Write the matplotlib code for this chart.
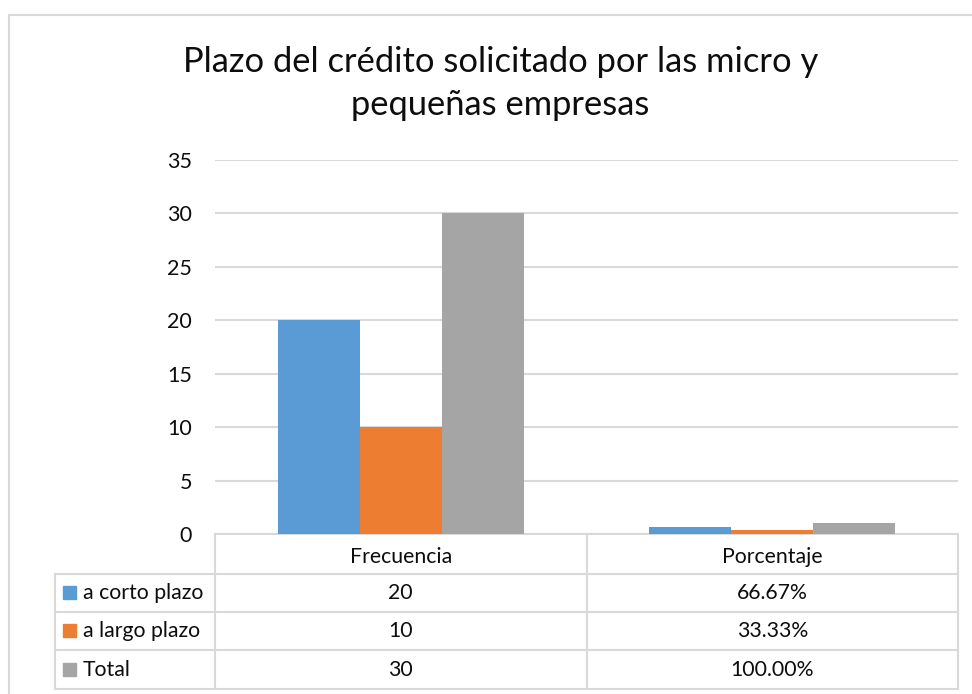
import matplotlib
matplotlib.use("Agg")
import matplotlib.pyplot as plt
import numpy as np

# data
categories = ["Frecuencia", "Porcentaje"]
series_names = ["a corto plazo", "a largo plazo", "Total"]
frecuencia = [20, 10, 30]
porcentaje = [0.6667, 0.3333, 1.0]
colors = ["#5B9BD5", "#ED7D31", "#A5A5A5"]
yticks = [0, 5, 10, 15, 20, 25, 30, 35]

plt.rcParams['font.family'] = ['Lato', 'DejaVu Sans']
txt_c = '#0d0d0d'

W, H = 972, 694
fig = plt.figure(figsize=(W / 100, H / 100), dpi=100)

# overlay in pixel coords for border, title and data table
ov = fig.add_axes([0, 0, 1, 1])
ov.set_xlim(0, W)
ov.set_ylim(H, 0)
ov.axis('off')
ov.set_zorder(0)

grid_c = "#D9D9D9"
ov.plot([9, W], [15, 15], color=grid_c, lw=1.5)
ov.plot([9, 9], [15, H], color=grid_c, lw=1.5)

ov.text(501, 62, "Plazo del crédito solicitado por las micro y", ha='center', va='center',
        fontsize=24.8, color=txt_c)
ov.text(500, 105, "pequeñas empresas", ha='center', va='center',
        fontsize=24.8, color=txt_c)

# plot area
x0, x1 = 215, 958
ytop, ybase = 160, 534
ax = fig.add_axes([x0 / W, (H - ybase) / H, (x1 - x0) / W, (ybase - ytop) / H])
ax.set_zorder(1)
ax.patch.set_alpha(0)

x = np.arange(len(categories))
bw = 0.2207
values = np.array([frecuencia, porcentaje]).T
for i, name in enumerate(series_names):
    ax.bar(x + (i - 1) * bw, values[i], width=bw, color=colors[i], zorder=2)

ax.set_xlim(-0.5, len(categories) - 0.5)
ax.set_ylim(0, 35)
ax.set_yticks(yticks)
ax.set_yticklabels([str(t) for t in yticks], fontsize=15.5, color=txt_c)
ax.tick_params(axis='y', length=0, pad=16.5)
ax.set_xticks([])
ax.yaxis.grid(True, color=grid_c, lw=1.5, zorder=0)
ax.set_axisbelow(True)
for s in ax.spines.values():
    s.set_visible(False)

# data table
cat_w = (x1 - x0) / len(categories)
col_edges = [x0 + k * cat_w for k in range(len(categories) + 1)]
rows = [ybase, 574, 612, 650, 689]
leg_left = 55
lw = 1.5
ov.plot([x0, x1], [rows[0], rows[0]], color=grid_c, lw=lw)
for r in rows[1:]:
    ov.plot([leg_left, x1], [r, r], color=grid_c, lw=lw)
ov.plot([leg_left, leg_left], [rows[1], rows[-1]], color=grid_c, lw=lw)
for c in col_edges:
    ov.plot([c, c], [rows[0], rows[-1]], color=grid_c, lw=lw)

fs = 15.3
for j, cat in enumerate(categories):
    cx = (col_edges[j] + col_edges[j + 1]) / 2
    ov.text(cx, (rows[0] + rows[1]) / 2 + 3, cat, ha='center', va='center',
            fontsize=fs, color=txt_c)

for i, name in enumerate(series_names):
    cy = (rows[i + 1] + rows[i + 2]) / 2
    ov.add_patch(plt.Rectangle((63, cy - 7), 13, 13, color=colors[i]))
    ov.text(83, cy, name, ha='left', va='center', fontsize=fs, color=txt_c)
    cx0 = (col_edges[0] + col_edges[1]) / 2
    cx1 = (col_edges[1] + col_edges[2]) / 2
    ov.text(cx0, cy, f"{frecuencia[i]}", ha='center', va='center', fontsize=fs, color=txt_c)
    ov.text(cx1, cy, f"{porcentaje[i] * 100:.2f}%", ha='center', va='center', fontsize=fs, color=txt_c)

fig.savefig("out.png", dpi=100)
